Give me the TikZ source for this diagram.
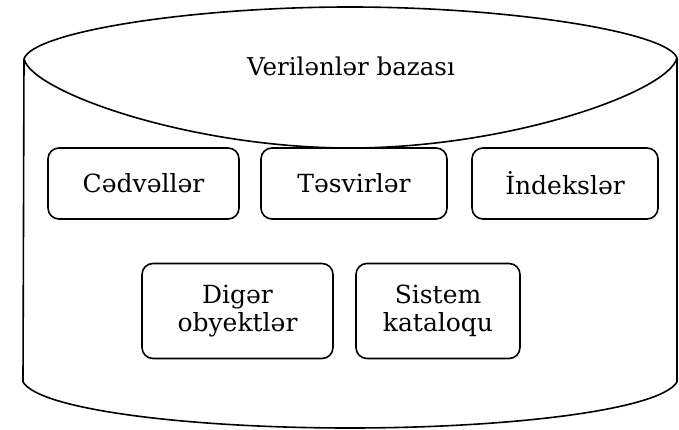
\documentclass[tikz,border=0pt]{standalone}
\usepackage{fontspec}
\setmainfont{DejaVu Serif}
\begin{document}
\begin{tikzpicture}[x=1pt,y=-1pt,
  outline/.style={draw=black,line width=1.6pt,line join=round},
  item/.style={draw=black,line width=1.6pt,rounded corners=11pt,align=center,
    inner sep=0pt,font=\fontsize{25}{28}\selectfont}]
\useasboundingbox (0,0) rectangle (679,430);
% cylinder
\coordinate (lt) at (24,59);
\coordinate (rt) at (677,58);
\coordinate (lb) at (23,382);
\coordinate (rb) at (677,382);
\coordinate (top) at (350,7);
\coordinate (bot) at (350,148);
\coordinate (base) at (350,428);
\draw[outline] (lt) .. controls (32,32) and (190,7) .. (top)
  .. controls (510,7) and (668,32) .. (rt)
  .. controls (668,92) and (510,148) .. (bot)
  .. controls (190,148) and (32,92) .. (lt);
\draw[outline] (lt) -- (lb) .. controls (40,410) and (190,428) .. (base)
  .. controls (510,428) and (660,410) .. (rb) -- (rt);
\node[font=\fontsize{24.5}{28}\selectfont] (title) at (351,66) {Verilənlər bazası};
% boxes
\node[item,minimum width=191pt,minimum height=71pt] (c) at (143.5,183.5) {Cədvəllər};
\node[item,minimum width=186pt,minimum height=71pt] (t) at (354,183.5) {Təsvirlər};
\node[item,minimum width=186pt,minimum height=71pt] (i) at (565,183.5) {İndekslər};
\node[item,minimum width=191pt,minimum height=95pt] (d) at (237.5,311) {Digər\\obyektlər};
\node[item,minimum width=164pt,minimum height=95pt] (s) at (438,311) {Sistem\\kataloqu};
\end{tikzpicture}
\end{document}
